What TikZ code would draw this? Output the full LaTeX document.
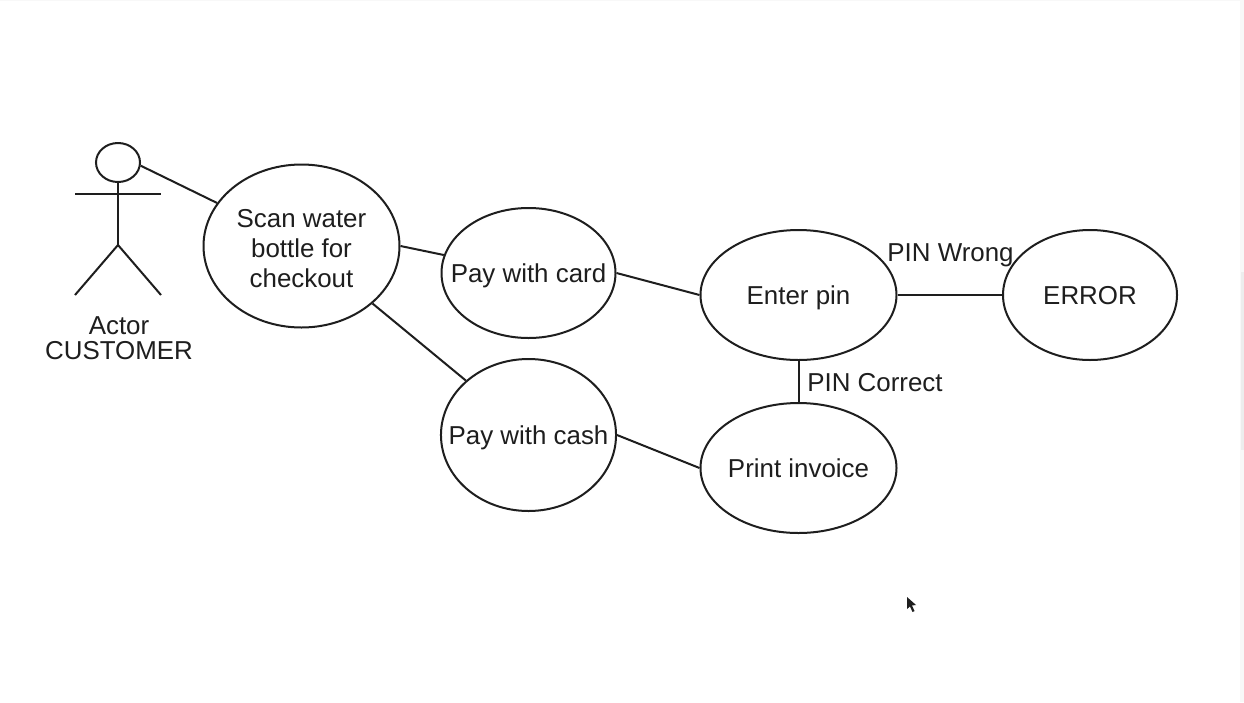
\documentclass[tikz,border=0pt]{standalone}
\usepackage{fontspec}
\setmainfont{Liberation Sans}
\usetikzlibrary{shapes.geometric}
\definecolor{ink}{HTML}{1E1E1E}
\definecolor{edgegrey}{HTML}{F8F8F8}
\definecolor{stripgrey}{HTML}{EDEDED}
\tikzset{
  uc/.style={ellipse,draw=ink,line width=2pt,inner sep=-18pt,align=center,font=\fontsize{25.9}{30}\selectfont,text=ink},
  oneline/.style={text height=18pt,text depth=0pt},
  link/.style={draw=ink,line width=2pt},
  lbl/.style={inner sep=0pt,font=\fontsize{25.9}{30}\selectfont,text=ink},
}
\begin{document}
\begin{tikzpicture}[x=1pt,y=-1pt]
\useasboundingbox (0,0) rectangle (1244,702);
\fill[white] (0,0) rectangle (1244,702);
\fill[edgegrey] (1240,0) rectangle (1244,702);
\fill[stripgrey] (1241,272) rectangle (1244,450);
\fill[edgegrey] (0,0) rectangle (1244,1);

\node[uc,minimum width=44pt,minimum height=39pt] (head) at (118,162.5) {};
\node[uc,minimum width=196pt,minimum height=163pt] (scan) at (301.5,246) {\rule{0pt}{23.5pt}Scan water\\bottle for\\checkout};
\node[uc,oneline,minimum width=174pt,minimum height=130pt] (card) at (528.5,273) {Pay with card};
\node[uc,oneline,minimum width=174pt,minimum height=152pt] (cash) at (528.5,435) {Pay with cash};
\node[uc,oneline,minimum width=196pt,minimum height=130pt] (pin) at (798.5,295) {Enter pin};
\node[uc,oneline,minimum width=196pt,minimum height=130pt] (print) at (798.5,468) {Print invoice};
\node[uc,oneline,minimum width=174pt,minimum height=130pt] (err) at (1090,295) {ERROR};

\coordinate (hip) at (118,245);
\coordinate (armL) at (75,194);
\coordinate (armR) at (161,194);
\coordinate (footL) at (75,295);
\coordinate (footR) at (161,295);
\draw[link] (head.south) -- (hip);
\draw[link] (armL) -- (armR);
\draw[link] (footL) -- (hip) -- (footR);

\draw[link] (head.-8) -- (scan.153);
\draw[link] (scan.0) -- (card.168.6);
\draw[link] (scan.-39.2) -- (cash.139);
\draw[link] (card.0) -- (pin.180);
\draw[link] (cash.0) -- (print.180);
\draw[link] (pin.0) -- (err.180);
\draw[link] (pin.south) -- (print.north);

\node[lbl] (actor) at (119,325.5) {Actor};
\node[lbl] (customer) at (119,350.5) {CUSTOMER};
\node[lbl] (wrong) at (950.5,255) {PIN Wrong};
\node[lbl] (correct) at (875,382.5) {PIN Correct};

\fill[ink] (907,597) -- (907,609) -- (910,606.5) -- (912.5,612) -- (914.5,611) -- (912,605.5) -- (916,605) -- cycle;
\end{tikzpicture}
\end{document}
